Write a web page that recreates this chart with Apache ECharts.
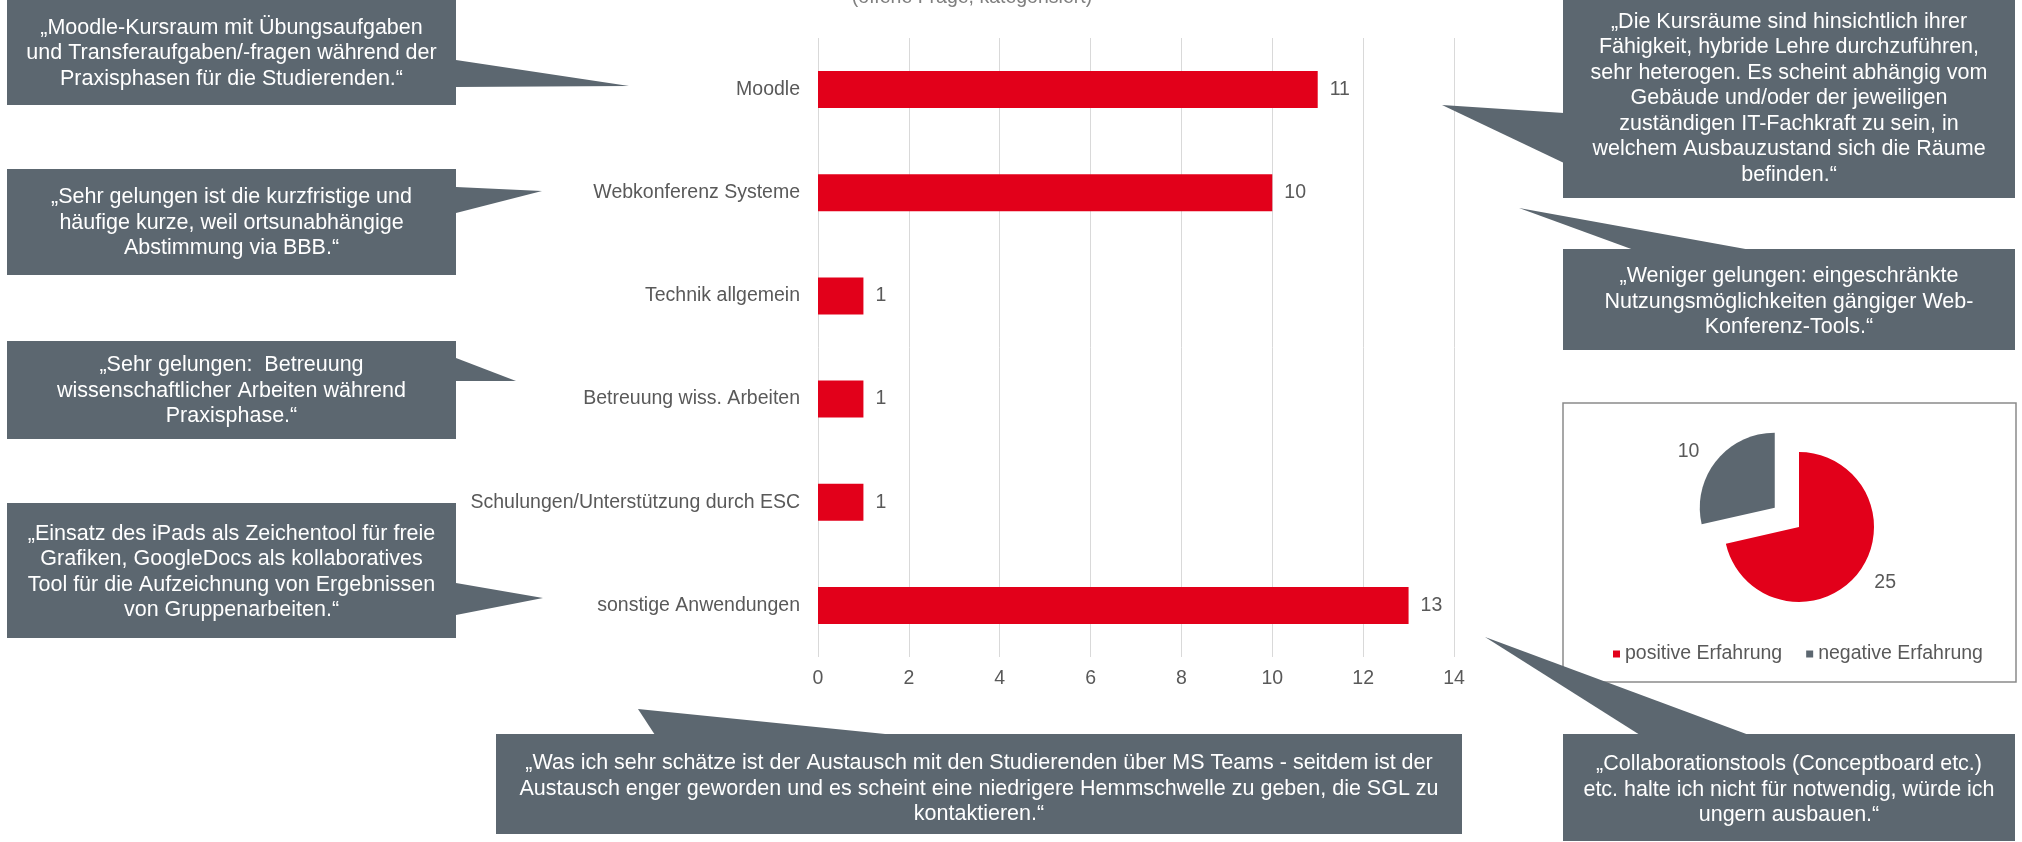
<!DOCTYPE html>
<html>
<head>
<meta charset="utf-8">
<script src="https://cdn.jsdelivr.net/npm/echarts@6/dist/echarts.min.js"></script>
<style>
html,body{margin:0;padding:0;background:#fff;}
#chart{width:2022px;height:842px;}
</style>
</head>
<body>
<div id="chart"></div>
<script>
// ---- data ----
const categories = ['Moodle', 'Webkonferenz Systeme', 'Technik allgemein', 'Betreuung wiss. Arbeiten', 'Schulungen/Unterstützung durch ESC', 'sonstige Anwendungen'];
const counts = [11, 10, 1, 1, 1, 13];
const axisMin = 0;
const axisMax = 14;
const axisStep = 2;
const pieNames = ['positive Erfahrung', 'negative Erfahrung'];
const pieValues = [25, 10];
const subtitle = '(offene Frage, kategorisiert)';
const quotes = [
  '„Moodle-Kursraum mit Übungsaufgaben\nund Transferaufgaben/-fragen während der\nPraxisphasen für die Studierenden.“',
  '„Sehr gelungen ist die kurzfristige und\nhäufige kurze, weil ortsunabhängige\nAbstimmung via BBB.“',
  '„Sehr gelungen:  Betreuung\nwissenschaftlicher Arbeiten während\nPraxisphase.“',
  '„Einsatz des iPads als Zeichentool für freie\nGrafiken, GoogleDocs als kollaboratives\nTool für die Aufzeichnung von Ergebnissen\nvon Gruppenarbeiten.“',
  '„Was ich sehr schätze ist der Austausch mit den Studierenden über MS Teams - seitdem ist der\nAustausch enger geworden und es scheint eine niedrigere Hemmschwelle zu geben, die SGL zu\nkontaktieren.“',
  '„Collaborationstools (Conceptboard etc.)\netc. halte ich nicht für notwendig, würde ich\nungern ausbauen.“',
  '„Die Kursräume sind hinsichtlich ihrer\nFähigkeit, hybride Lehre durchzuführen,\nsehr heterogen. Es scheint abhängig vom\nGebäude und/oder der jeweiligen\nzuständigen IT-Fachkraft zu sein, in\nwelchem Ausbauzustand sich die Räume\nbefinden.“',
  '„Weniger gelungen: eingeschränkte\nNutzungsmöglichkeiten gängiger Web-\nKonferenz-Tools.“'
];

// ---- layout (annotation boxes) ----
const FONT = "'Liberation Sans', Arial, Helvetica, sans-serif";
const RED = '#e2001a';
const SLATE = '#5c6770';
const TXT = '#595959';
const boxLayout = [
  {rect: [7, -5, 449, 110], ptr: [[456, 60], [629, 86], [456, 87]], ty: 53.5},
  {rect: [7, 169, 449, 106], ptr: [[456, 187], [542, 191], [456, 213]], ty: 223},
  {rect: [7, 341, 449, 98], ptr: [[456, 358], [516, 381], [456, 381]], ty: 391},
  {rect: [7, 503, 449, 135], ptr: [[456, 583], [543, 598], [456, 615]], ty: 572},
  {rect: [496, 734, 966, 100], ptr: [[655, 735], [638, 709], [895, 735]], ty: 789},
  {rect: [1563, 734, 452, 107], ptr: [[1485, 637], [1640, 735], [1749, 735]], ty: 790},
  {rect: [1563, -5, 452, 203], ptr: [[1564, 113], [1442, 105], [1564, 163]], ty: 98.5},
  {rect: [1563, 249, 452, 101], ptr: [[1519, 208], [1634, 250], [1751, 250]], ty: 302}
];

const graphics = [];
// pie frame
graphics.push({type: 'rect', shape: {x: 1563, y: 403, width: 453, height: 279},
  style: {fill: 'none', stroke: '#8a8a8a', lineWidth: 1.5}, z: 0});
// subtitle (cut at top)
graphics.push({type: 'text', x: 972, y: -2, z: 5,
  style: {text: subtitle, font: '19.5px ' + FONT, fill: '#7f7f7f', textAlign: 'center', textVerticalAlign: 'middle'}});
boxLayout.forEach((b, i) => {
  graphics.push({type: 'polygon', shape: {points: b.ptr}, style: {fill: SLATE}, z: 10});
  graphics.push({type: 'rect', shape: {x: b.rect[0], y: b.rect[1], width: b.rect[2], height: b.rect[3]}, style: {fill: SLATE}, z: 10});
  graphics.push({type: 'text', x: b.rect[0] + b.rect[2] / 2, y: b.ty, z: 11,
    style: {text: quotes[i], font: '21.5px ' + FONT, fill: '#ffffff', textAlign: 'center', textVerticalAlign: 'middle', lineHeight: 25.5}});
});

const chart = echarts.init(document.getElementById('chart'), null, {renderer: 'canvas'});
chart.setOption({
  animation: false,
  backgroundColor: '#ffffff',
  textStyle: {fontFamily: FONT},
  grid: {left: 818, right: 568, top: 38, bottom: 185, containLabel: false},
  xAxis: {
    type: 'value', min: axisMin, max: axisMax, interval: axisStep,
    axisLine: {show: false}, axisTick: {show: false},
    splitLine: {show: true, lineStyle: {color: '#d9d9d9', width: 1}},
    axisLabel: {fontSize: 19.5, color: TXT, margin: 12, fontFamily: FONT}
  },
  yAxis: {
    type: 'category', data: categories, inverse: true,
    axisLine: {show: false}, axisTick: {show: false},
    axisLabel: {fontSize: 19.5, color: TXT, margin: 18, fontFamily: FONT}
  },
  legend: {
    data: pieNames, left: 1608, top: 639, itemWidth: 7, itemHeight: 7, itemGap: 24,
    icon: 'rect', textStyle: {fontSize: 19.5, color: TXT, fontFamily: FONT}
  },
  graphic: {elements: graphics},
  series: [
    {
      type: 'bar', data: counts, barWidth: 37, itemStyle: {color: RED},
      label: {show: true, position: 'right', distance: 12, fontSize: 19.5, color: TXT, fontFamily: FONT},
      z: 3
    },
    {
      type: 'pie', center: [1799, 527], radius: 75, startAngle: 90, clockwise: true,
      selectedMode: 'single', selectedOffset: 31, avoidLabelOverlap: false,
      color: [RED, SLATE],
      label: {show: true, position: 'outside', formatter: '{c}', fontSize: 19.5, color: TXT, fontFamily: FONT},
      labelLine: {show: false, length: 15, length2: 0},
      emphasis: {disabled: true},
      data: pieNames.map((n, i) => ({name: n, value: pieValues[i], selected: i === 1})),
      z: 3
    }
  ]
});
</script>
</body>
</html>
